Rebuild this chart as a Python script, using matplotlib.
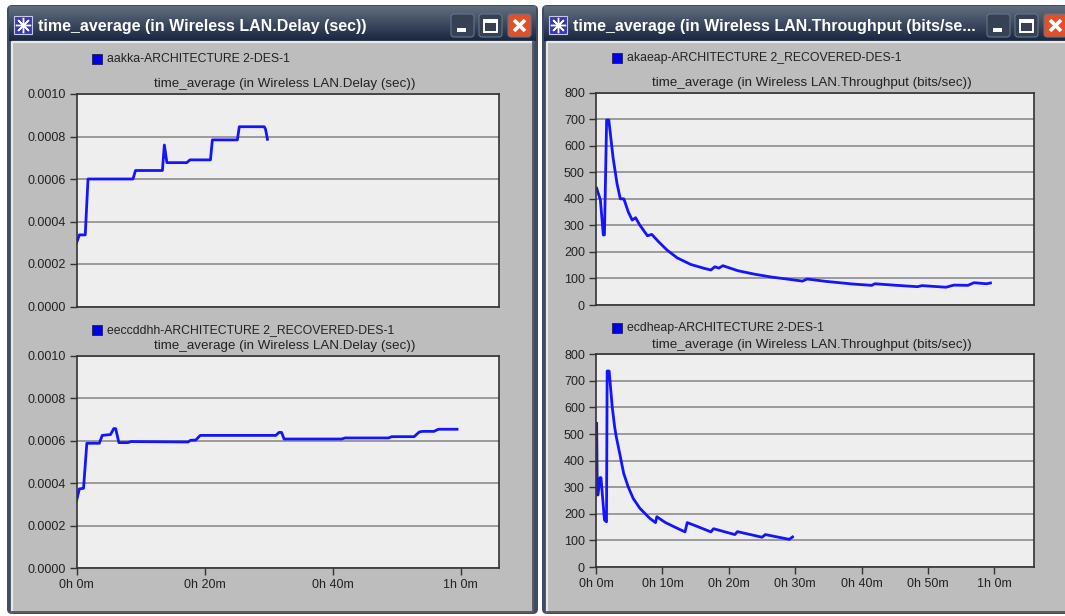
import numpy as np
import matplotlib

matplotlib.use('Agg')
import matplotlib.pyplot as plt
from matplotlib.patches import Rectangle, FancyBboxPatch

W, H = 1065, 616

# minutes / seconds
delay1_t = [0, 0.43, 1.35, 1.78, 8.8, 9.2, 13.4, 13.7, 14.1, 17.2, 17.7, 20.9, 21.2, 25.1, 25.4, 29.3, 29.5, 29.8]
delay1_v = [0.0003, 0.000337, 0.000337, 0.0006, 0.0006, 0.00064, 0.00064, 0.00076, 0.000677, 0.000677, 0.00069,
            0.00069, 0.000784, 0.000784, 0.000846, 0.000846, 0.000834, 0.000787]

delay2_t = [0, 0.43, 1.08, 1.6, 3.55, 4.0, 5.3, 5.8, 6.1, 6.6, 8, 8.5, 17.4, 17.8, 18.6, 19.3, 31.1, 31.6, 32, 32.4,
            41.4, 41.9, 48.7, 49.2, 52.7, 53.5, 54, 55.8, 56.5, 59.4]
delay2_v = [0.00032, 0.000374, 0.000377, 0.000589, 0.000589, 0.000626, 0.00063, 0.000658, 0.000658, 0.000592,
            0.000592, 0.000597, 0.000595, 0.000603, 0.000604, 0.000626, 0.000626, 0.00064, 0.00064, 0.000609,
            0.000609, 0.000614, 0.000614, 0.00062, 0.00062, 0.000642, 0.000645, 0.000645, 0.000655, 0.000655]

thr1_t = [0.1, 0.66, 1.1, 1.27, 1.6, 1.93, 2.55, 3.16, 3.66, 4.2, 4.84, 5.45, 5.96, 6.6, 7.74, 8.4, 9.4, 10.7, 12.2,
          14.25, 16.3, 17.3, 17.9, 18.5, 19.1, 21.4, 23.9, 26.5, 29, 31.1, 31.8, 34.6, 38.7, 41.5, 42, 45.3, 48.4,
          49.1, 52.7, 53.9, 56, 56.9, 58.8, 59.4]
thr1_v = [440, 396, 264, 264, 697, 697, 559, 458, 400, 400, 352, 320, 329, 301, 261, 266, 239, 207, 178, 153, 138,
          132, 144, 139, 148, 129, 116, 105, 97, 90, 98, 89, 79, 74, 80, 74, 69, 73, 67, 75, 74, 84, 80, 83]

thr2_t = [0.1, 0.2, 0.3, 0.6, 0.75, 1.27, 1.58, 1.68, 1.98, 2.44, 2.8, 3.05, 3.56, 4.17, 4.84, 5.6, 6.6, 8.1, 8.96,
          9.16, 10.4, 11.7, 13.4, 13.74, 15.3, 17.3, 17.7, 20.9, 21.3, 25, 25.5, 29.1, 29.6]
thr2_v = [540, 271, 271, 336, 336, 177, 170, 737, 737, 603, 528, 490, 428, 352, 302, 258, 221, 183, 167, 189, 168,
          152, 132, 167, 152, 132, 144, 122, 133, 112, 122, 104, 113]

delay_ticks = [0, 0.0002, 0.0004, 0.0006, 0.0008, 0.0010]
delay_ticklabels = ['0.0000', '0.0002', '0.0004', '0.0006', '0.0008', '0.0010']
thr_ticks = [0, 100, 200, 300, 400, 500, 600, 700, 800]
left_xticks = [0, 20, 40, 60]
left_xlabels = ['0h 0m', '0h 20m', '0h 40m', '1h 0m']
right_xticks = [0, 10, 20, 30, 40, 50, 60]
right_xlabels = ['0h 0m', '0h 10m', '0h 20m', '0h 30m', '0h 40m', '0h 50m', '1h 0m']

delay_title = 'time_average (in Wireless LAN.Delay (sec))'
thr_title = 'time_average (in Wireless LAN.Throughput (bits/sec))'
thr_win_title = 'time_average (in Wireless LAN.Throughput (bits/se...'

plt.rcParams['font.family'] = ['Liberation Sans', 'DejaVu Sans']

fig = plt.figure(figsize=(W / 100, H / 100), dpi=100, facecolor='white')

# background layer in pixel coordinates for the window frames
bg = fig.add_axes([0, 0, 1, 1], zorder=0)
bg.set_xlim(0, W)
bg.set_ylim(H, 0)
bg.axis('off')


def window(x0, x1, body_x1, title, btn_x):
    bg.add_patch(FancyBboxPatch((x0, 5), x1 - x0, 609, boxstyle='round,pad=0,rounding_size=5',
                                fc='#3f4d63', ec='none'))
    grad = np.linspace(0, 1, 32).reshape(-1, 1)
    cols = np.array([0.38, 0.43, 0.50]) * (1 - grad) + np.array([0.10, 0.15, 0.25]) * grad
    bg.imshow(cols[:, None, :], extent=(x0 + 2, x1 - 2, 41, 6), aspect='auto', zorder=1)
    bg.add_patch(Rectangle((x0 + 5, 42), body_x1 - x0 - 5, 570, fc='#bdbdbd', ec='none', zorder=1))
    # bevel: light top / left, dark right / bottom
    bg.plot([x0 + 5, x0 + 5, body_x1], [612, 42, 42], color='#e8e8e8', lw=1.6, zorder=2)
    bg.plot([x0 + 5, body_x1, body_x1], [612, 612, 42], color='#5c5c5c', lw=1.4, zorder=2)
    # frame icon
    bg.add_patch(Rectangle((x0 + 7, 16), 18, 18, fc='#3a3ab0', ec='#c8c8ee', lw=0.8, zorder=2))
    bg.plot([x0 + 16], [25], marker=(8, 2, 0), ms=11, color='white', mew=1, zorder=3)
    bg.text(x0 + 31, 27, title, color='white', fontsize=11.5, fontweight='bold', family=['Liberation Sans'],
            va='center', ha='left', zorder=3)
    # min / max / close buttons
    for bx, fc in zip(btn_x, ['#364254', '#364254', '#e2502a']):
        bg.add_patch(FancyBboxPatch((bx, 14), 23, 23, boxstyle='round,pad=0,rounding_size=3', fc=fc,
                                    ec='#64748a', lw=0.8, zorder=2))
    bg.add_patch(Rectangle((btn_x[0] + 6, 28), 9, 4, fc='white', zorder=3))
    bg.add_patch(Rectangle((btn_x[1] + 5, 20), 13, 12, fc='none', ec='white', lw=1.4, zorder=3))
    bg.add_patch(Rectangle((btn_x[1] + 5, 20), 13, 2.5, fc='white', ec='none', zorder=3))
    bg.plot([btn_x[2] + 6, btn_x[2] + 17], [20, 31], color='white', lw=2.6, solid_capstyle='butt', zorder=3)
    bg.plot([btn_x[2] + 6, btn_x[2] + 17], [31, 20], color='white', lw=2.6, solid_capstyle='butt', zorder=3)


window(7, 538, 533, delay_title, [451, 479, 508])
window(542, 1075, 1075, thr_win_title, [987, 1015, 1044])
bg.set_xlim(0, W)
bg.set_ylim(H, 0)


def panel(x0, x1, y0, y1, t, v, ticks, ticklabels, xticks, xlabels, title, legend, leg_x, leg_y, title_y):
    ax = fig.add_axes([x0 / W, 1 - y1 / H, (x1 - x0) / W, (y1 - y0) / H], zorder=2, facecolor='#eeeeee')
    ax.plot(t, v, color='#1414ff', lw=2.0, solid_joinstyle='round')
    ax.set_xlim(0, 66)
    ax.set_ylim(ticks[0], ticks[-1])
    ax.set_yticks(ticks)
    ax.set_yticklabels(ticklabels, fontsize=9, color='#222222')
    ax.set_xticks(xticks)
    ax.set_xticklabels(xlabels, fontsize=9, color='#222222')
    ax.tick_params(axis='both', length=5, width=1, color='#333333', pad=3)
    ax.grid(axis='y', color='#8c8c8c', lw=1.2)
    ax.set_axisbelow(True)
    for s in ax.spines.values():
        s.set_color('#333333')
        s.set_linewidth(1.2)
    bg.text((x0 + x1) / 2 - 3, title_y, title, fontsize=9.65, color='#222222', ha='center', va='center')
    bg.add_patch(Rectangle((leg_x, leg_y - 5), 10, 10, fc='#0000ee', ec='#222244', lw=0.6, zorder=3))
    bg.text(leg_x + 15, leg_y, legend, fontsize=8.8, color='#222222', ha='left', va='center')


panel(76.6, 499.3, 94, 306.5, delay1_t, delay1_v, delay_ticks, delay_ticklabels, [], [], delay_title,
      'aakka-ARCHITECTURE 2-DES-1', 92, 59, 84)
panel(76.6, 499.3, 356, 568.3, delay2_t, delay2_v, delay_ticks, delay_ticklabels, left_xticks, left_xlabels,
      delay_title, 'eeccddhh-ARCHITECTURE 2_RECOVERED-DES-1', 92, 330, 346)
panel(596, 1034.3, 92.7, 305, thr1_t, thr1_v, thr_ticks, thr_ticks, [], [], thr_title,
      'akaeap-ARCHITECTURE 2_RECOVERED-DES-1', 612, 58, 83)
panel(596, 1034.3, 354.3, 567, thr2_t, thr2_v, thr_ticks, thr_ticks, right_xticks, right_xlabels, thr_title,
      'ecdheap-ARCHITECTURE 2-DES-1', 612, 328, 345)

plt.savefig('out.png', dpi=100, facecolor='white')
